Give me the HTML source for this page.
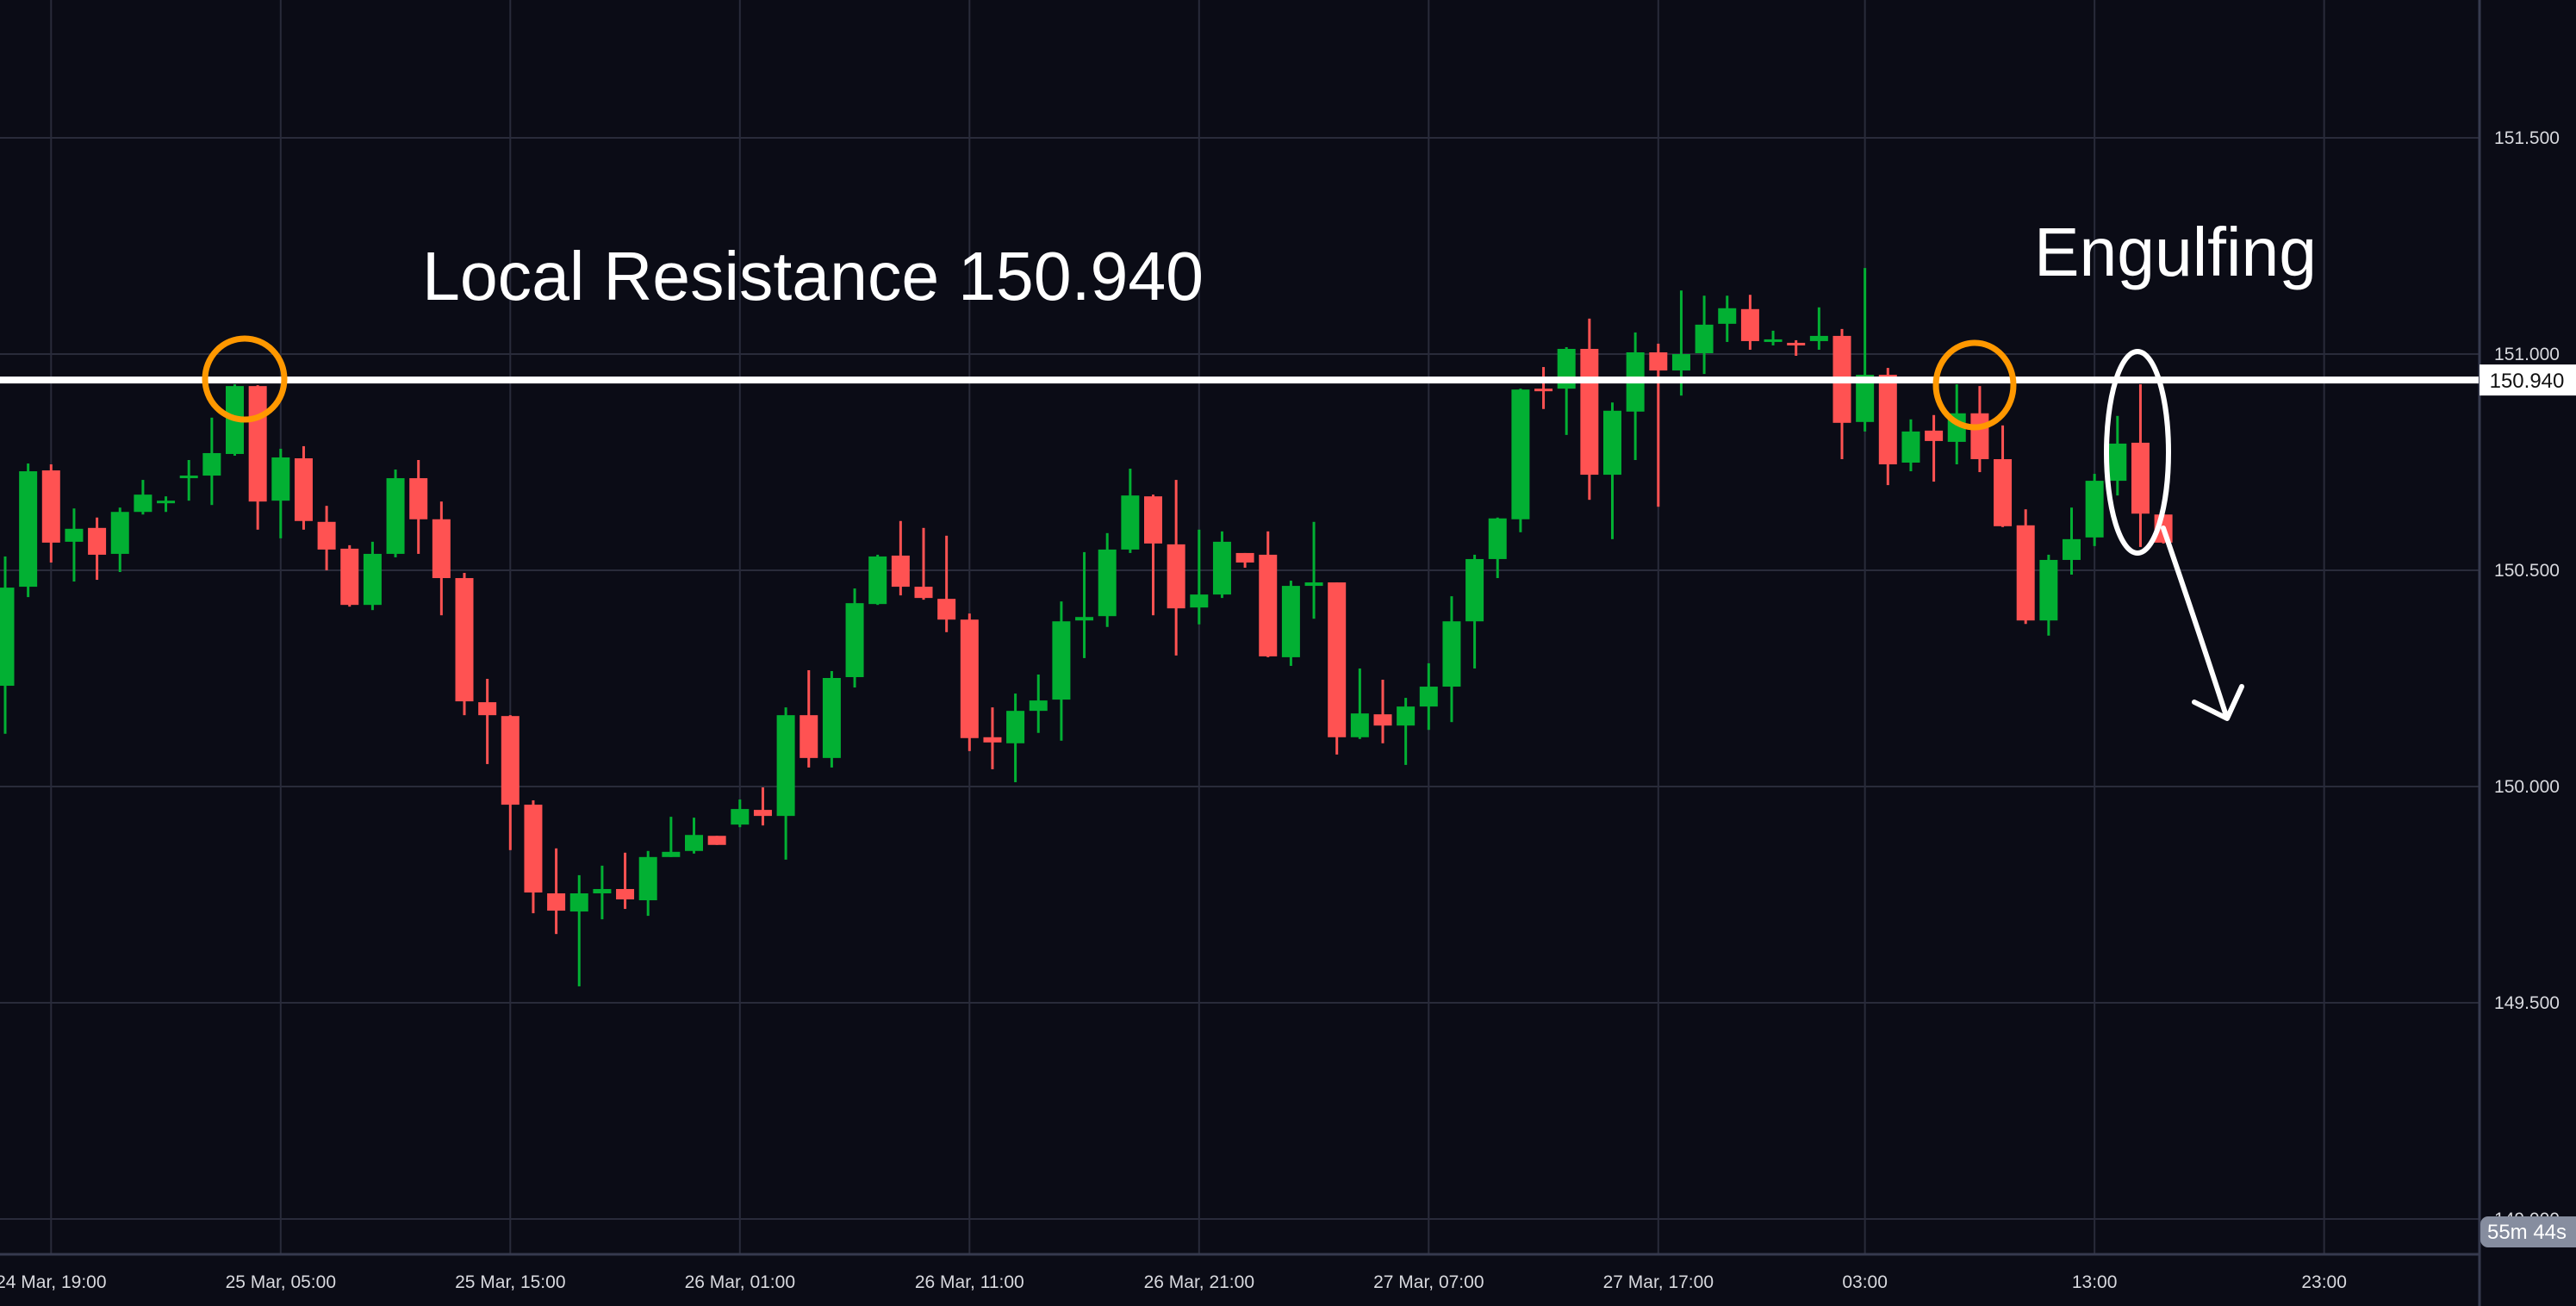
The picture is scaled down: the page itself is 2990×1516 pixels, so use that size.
<!DOCTYPE html>
<html><head><meta charset="utf-8"><style>
html,body{margin:0;padding:0;background:#0b0c16;}
svg{display:block;}
text{font-family:"Liberation Sans",sans-serif;}
</style></head><body>
<svg id="chart" width="2990" height="1516" viewBox="0 0 2990 1516" xmlns="http://www.w3.org/2000/svg">
<rect x="0" y="0" width="2990" height="1516" fill="#0b0c16"/>
<g id="grid"></g>
<g id="candles"></g>
<g id="axes"></g>
<text x="490" y="348" font-size="80" fill="#ffffff" textLength="907" lengthAdjust="spacingAndGlyphs">Local Resistance 150.940</text>
<text x="2361" y="320" font-size="80" fill="#ffffff" textLength="328" lengthAdjust="spacingAndGlyphs">Engulfing</text>
<g id="annot"></g>
</svg>
<script>
const opens=[150.233,150.462,150.731,150.566,150.598,150.538,150.635,150.655,150.713,150.719,150.769,150.926,150.661,150.759,150.612,150.550,150.420,150.538,150.713,150.618,150.482,150.195,150.163,149.958,149.753,149.711,149.753,149.763,149.737,149.837,149.851,149.886,149.912,149.946,149.932,150.165,150.066,150.253,150.422,150.534,150.462,150.434,150.386,150.114,150.100,150.175,150.201,150.384,150.394,150.548,150.671,150.560,150.414,150.444,150.540,150.536,150.299,150.464,150.472,150.114,150.167,150.141,150.185,150.231,150.382,150.526,150.618,150.920,150.920,151.012,150.721,150.867,151.004,150.962,151.002,151.070,151.104,151.032,151.026,151.030,151.042,150.843,150.952,150.749,150.823,150.797,150.863,150.757,150.604,150.384,150.524,150.576,150.707,150.795,150.629];
const highs=[150.532,150.747,150.745,150.643,150.622,150.645,150.709,150.671,150.755,150.853,150.930,150.928,150.781,150.787,150.649,150.558,150.566,150.733,150.755,150.659,150.494,150.249,150.165,149.968,149.857,149.795,149.817,149.847,149.851,149.930,149.928,149.886,149.970,149.998,150.183,150.269,150.267,150.458,150.536,150.614,150.598,150.580,150.400,150.183,150.215,150.259,150.428,150.542,150.586,150.735,150.675,150.709,150.594,150.590,150.540,150.590,150.476,150.612,150.472,150.273,150.247,150.205,150.285,150.440,150.536,150.622,150.920,150.970,151.016,151.082,150.888,151.050,151.024,151.147,151.135,151.135,151.137,151.054,151.032,151.108,151.058,151.199,150.968,150.849,150.859,150.930,150.926,150.835,150.641,150.536,150.645,150.723,150.857,150.930,150.629];
const lows=[150.122,150.438,150.518,150.474,150.478,150.496,150.629,150.635,150.661,150.651,150.765,150.594,150.574,150.594,150.500,150.416,150.408,150.530,150.538,150.396,150.165,150.052,149.853,149.707,149.659,149.538,149.693,149.717,149.701,149.837,149.845,149.865,149.906,149.910,149.831,150.044,150.044,150.229,150.420,150.442,150.432,150.357,150.082,150.040,150.010,150.124,150.106,150.297,150.369,150.540,150.396,150.303,150.375,150.436,150.506,150.299,150.279,150.388,150.074,150.110,150.100,150.050,150.131,150.149,150.273,150.482,150.588,150.873,150.813,150.663,150.572,150.755,150.647,150.904,150.954,151.028,151.010,151.020,150.996,151.010,150.757,150.821,150.697,150.729,150.705,150.745,150.727,150.600,150.376,150.349,150.490,150.556,150.673,150.554,150.562];
const closes=[150.460,150.729,150.564,150.596,150.536,150.635,150.675,150.661,150.719,150.771,150.926,150.659,150.761,150.614,150.548,150.420,150.538,150.713,150.618,150.482,150.197,150.165,149.958,149.755,149.713,149.753,149.763,149.739,149.837,149.849,149.888,149.865,149.948,149.932,150.165,150.066,150.251,150.424,150.532,150.462,150.436,150.386,150.112,150.102,150.175,150.199,150.382,150.392,150.548,150.673,150.562,150.412,150.444,150.566,150.518,150.301,150.464,150.472,150.114,150.169,150.141,150.185,150.231,150.382,150.526,150.620,150.918,150.918,151.012,150.721,150.869,151.004,150.962,151.000,151.068,151.106,151.030,151.034,151.022,151.042,150.841,150.952,150.745,150.821,150.799,150.863,150.757,150.602,150.384,150.524,150.572,150.707,150.793,150.631,150.564];
const priceTicks=[151.5,151.0,150.5,150.0,149.5,149.0];
const priceTickLabels=["151.500","151.000","150.500","150.000","149.500","149.000"];
const timeTickIndex=[2,12,22,32,42,52,62,72,81,91,101];
const timeTickLabels=["24 Mar, 19:00","25 Mar, 05:00","25 Mar, 15:00","26 Mar, 01:00","26 Mar, 11:00","26 Mar, 21:00","27 Mar, 07:00","27 Mar, 17:00","03:00","13:00","23:00"];
const resistance=[150.940];

const NS="http://www.w3.org/2000/svg";
const PLOT_R=2877, PLOT_B=1456;
function yScale(p){return 411+(151-p)*502;}
function xScale(i){return 6+26.65*i;}
function mk(tag,attrs,parent){const e=document.createElementNS(NS,tag);for(const k in attrs)e.setAttribute(k,attrs[k]);parent.appendChild(e);return e;}
const grid=document.getElementById('grid'),cg=document.getElementById('candles'),ax=document.getElementById('axes'),an=document.getElementById('annot');
priceTicks.forEach((p,k)=>{
  const l=mk('line',{x1:0,x2:PLOT_R,y1:yScale(p),y2:yScale(p),stroke:'#292b3a','stroke-width':2},grid);
  
  
});
timeTickIndex.forEach((i)=>{
  const l=mk('line',{x1:xScale(i),x2:xScale(i),y1:0,y2:PLOT_B,stroke:'#292b3a','stroke-width':2},grid);
  
  
});
opens.forEach((o,i)=>{
  const c=closes[i],h=highs[i],lo=lows[i];
  const up=c>=o, col=up?'#02b033':'#ff5252';
  const x=xScale(i);
  const g=mk('g',{},cg);
  
  
  mk('rect',{x:x-1.5,y:yScale(h),width:3,height:Math.max(1,yScale(lo)-yScale(h)),fill:col},g);
  const top=yScale(Math.max(o,c)),bot=yScale(Math.min(o,c));
  mk('rect',{x:x-10.5,y:top,width:21,height:Math.max(3,bot-top),fill:col},g);
});
// axes
const b1=mk('line',{x1:0,x2:PLOT_R,y1:PLOT_B,y2:PLOT_B,stroke:'#363a4e','stroke-width':3},ax);


const b2=mk('line',{x1:PLOT_R+1,x2:PLOT_R+1,y1:0,y2:1516,stroke:'#363a4e','stroke-width':3},ax);


priceTicks.forEach((p,k)=>{
  const t=mk('text',{x:2933,y:yScale(p)+7,'font-size':21,fill:'#d8d9de','text-anchor':'middle'},ax);
  t.textContent=priceTickLabels[k];
  
  
});
timeTickIndex.forEach((i,k)=>{
  const t=mk('text',{x:xScale(i),y:1495,'font-size':21,fill:'#d8d9de','text-anchor':'middle'},ax);
  t.textContent=timeTickLabels[k];
  
  
});
// countdown
const cd=mk('rect',{x:2879,y:1412,width:120,height:36,rx:9,fill:'#868d9f'},ax);


const cdt=mk('text',{x:2933,y:1438,'font-size':24,fill:'#ffffff','text-anchor':'middle'},ax);
cdt.textContent='55m 44s';


// resistance line
resistance.forEach(r=>{
  const y=yScale(r);
  const l=mk('rect',{x:0,y:y-4,width:PLOT_R,height:8,fill:'#ffffff'},an);
  
  
  const bx=mk('rect',{x:2878,y:y-18,width:112,height:36,fill:'#ffffff'},an);
  
  
  const t=mk('text',{x:2933,y:y+9,'font-size':24,fill:'#111111','text-anchor':'middle'},an);
  t.textContent=r.toFixed(3);
  
  
});
// annotations
const c1=mk('ellipse',{cx:284,cy:440,rx:46,ry:47,fill:'none',stroke:'#ff9800','stroke-width':7},an);


const c2=mk('ellipse',{cx:2292,cy:447,rx:45,ry:49,fill:'none',stroke:'#ff9800','stroke-width':7},an);


const el=mk('ellipse',{cx:2481,cy:525,rx:36,ry:117,fill:'none',stroke:'#ffffff','stroke-width':6},an);


const ar=mk('path',{d:'M2511 613 Q2548 720 2585 834 M2547 815 L2585 834 L2602 797',fill:'none',stroke:'#ffffff','stroke-width':6,'stroke-linecap':'round','stroke-linejoin':'round'},an);


</script>
</body></html>
